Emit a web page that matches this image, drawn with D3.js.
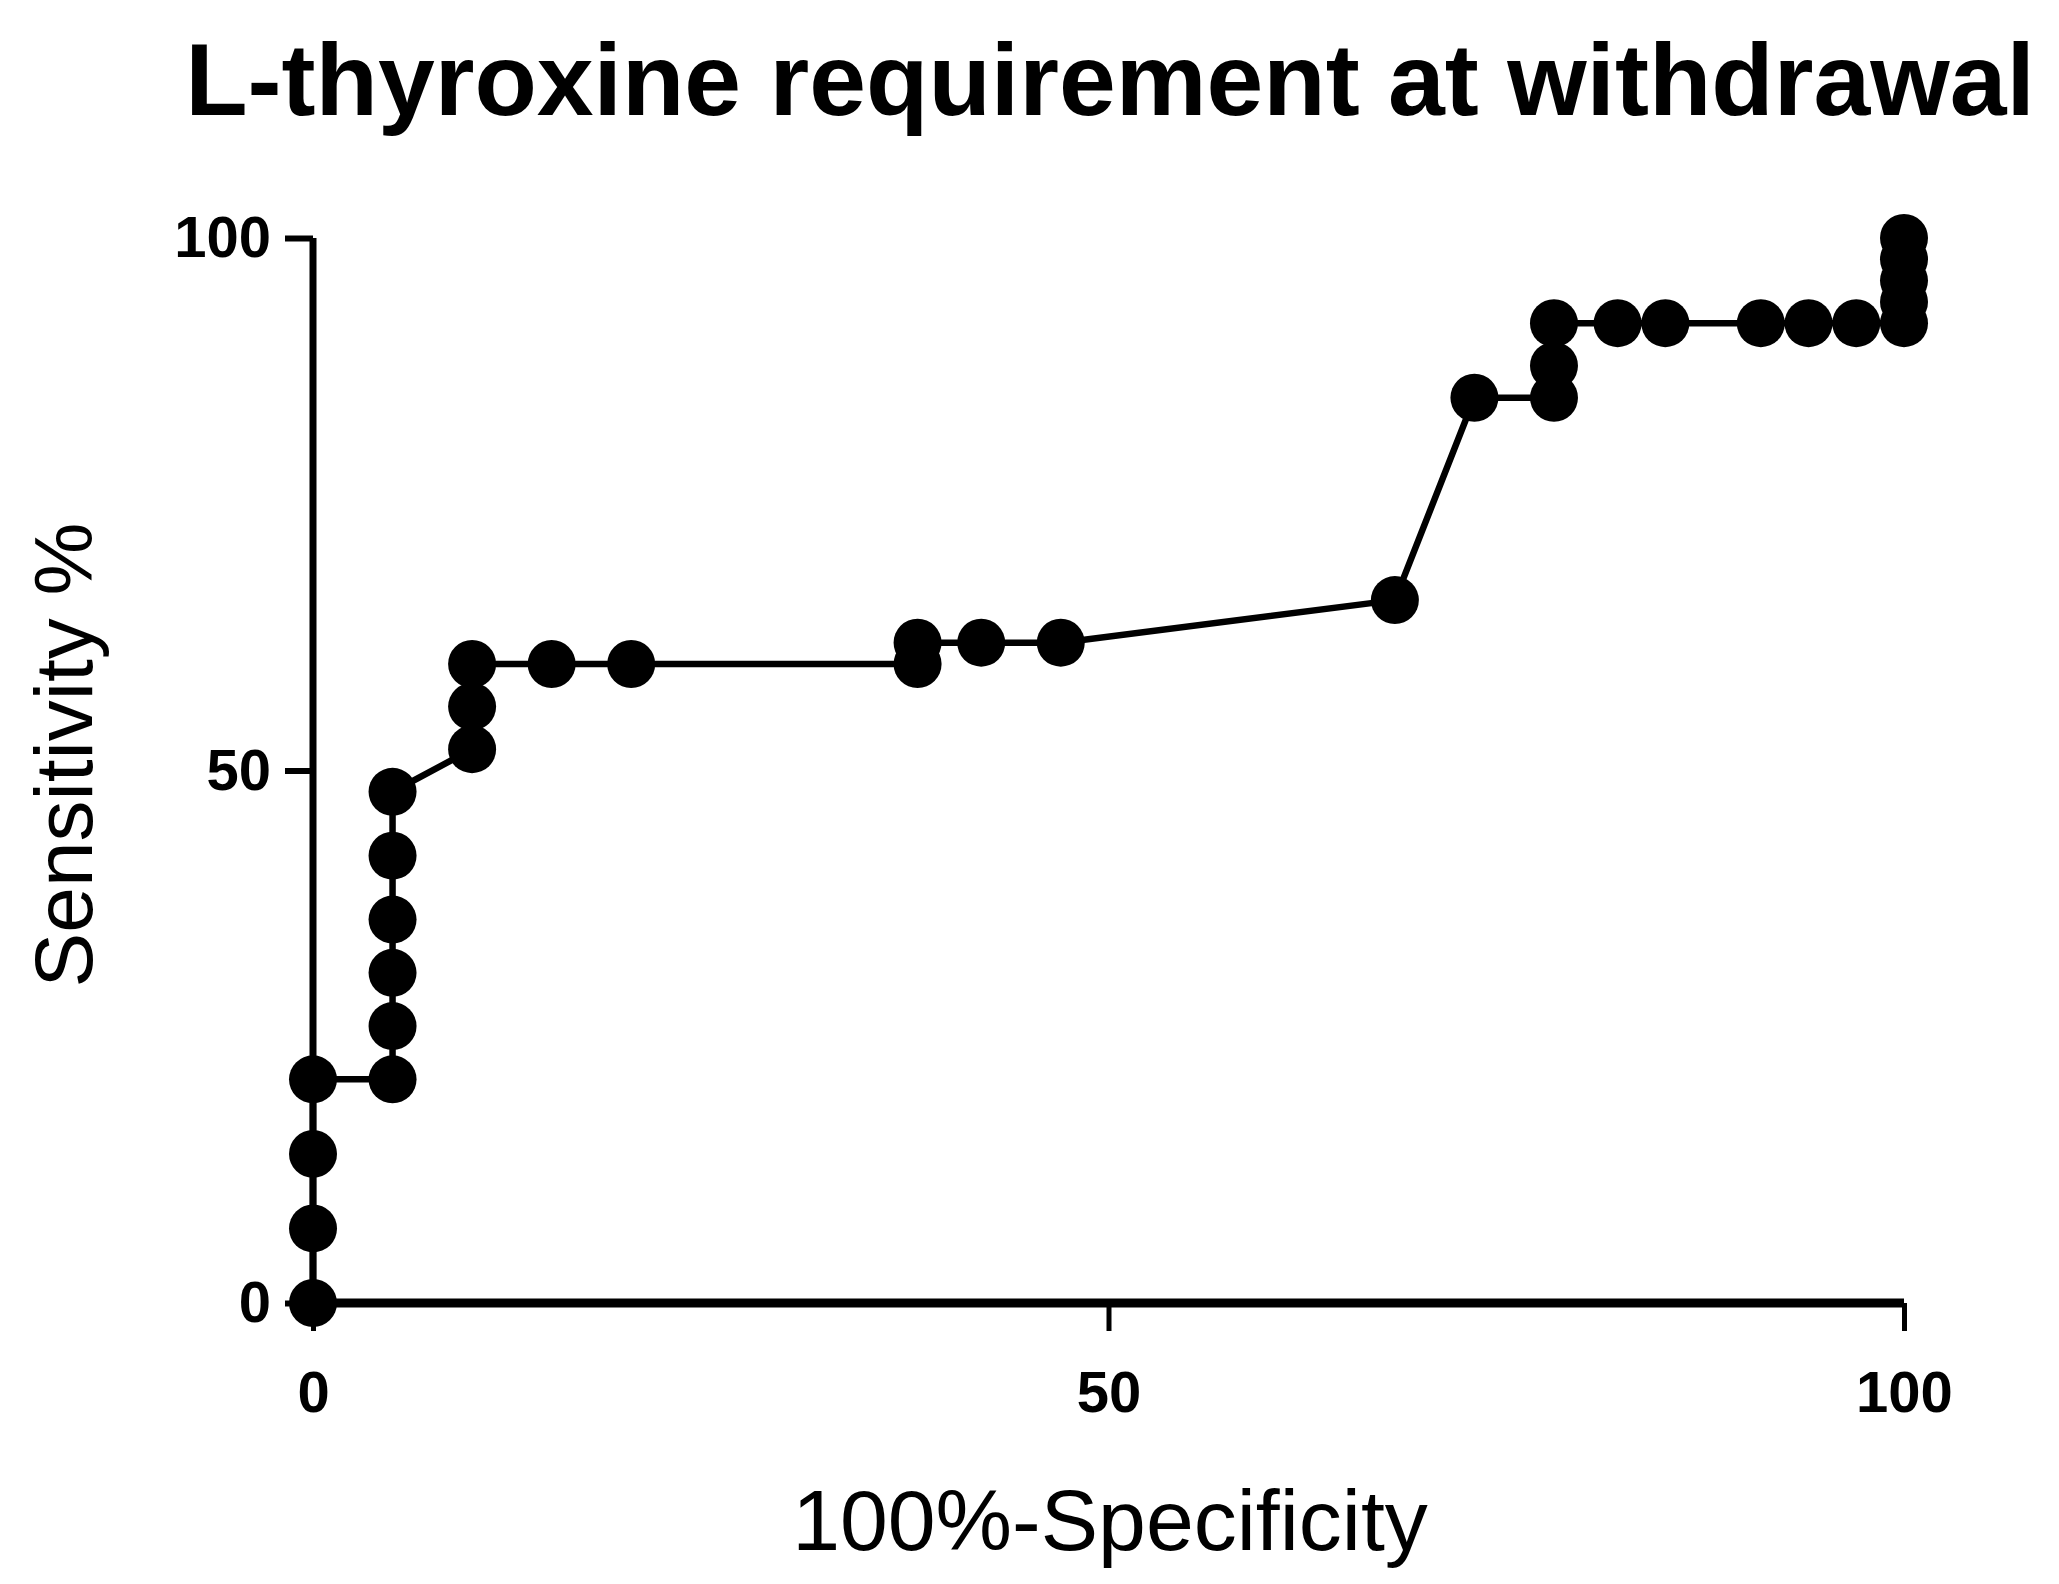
<!DOCTYPE html>
<html>
<head>
<meta charset="UTF-8">
<style>
  html, body { margin: 0; background: #fff; }
  text { font-family: "Liberation Sans", Arial, sans-serif; }
</style>
</head>
<body>
<svg id="chart" width="2059" height="1584"></svg>
<script src="https://cdn.jsdelivr.net/npm/d3@7"></script>
<script>
// ROC points, in plotting order
const fpr = [0, 0, 0, 0, 5, 5, 5, 5, 5, 5, 10, 10, 10, 15, 20, 38, 38, 42, 47, 68, 73, 78, 78, 78, 82, 85, 91, 94, 97, 100, 100, 100, 100, 100];
const sens = [0, 7, 14, 21, 21, 26, 31, 36, 42, 48, 52, 56, 60, 60, 60, 60, 62, 62, 62, 66, 85, 85, 88, 92, 92, 92, 92, 92, 92, 92, 94, 96, 98, 100];
const xTicks = [0, 50, 100];
const yTicks = [0, 50, 100];

const points = fpr.map((x, i) => ({x, y: sens[i]}));
const svg = d3.select("#chart");
const bold = "DejaVu Sans, sans-serif";

const x = d3.scaleLinear().domain([0, 100]).range([313, 1904]);
const y = d3.scaleLinear().domain([0, 100]).range([1303, 238]);

// x axis
const xa = svg.append("g").attr("transform", "translate(0,1303)")
  .call(d3.axisBottom(x).tickValues(xTicks).tickSize(28).tickPadding(40));
xa.select(".domain").attr("stroke-width", 9).attr("d", `M${x(0)},0H${x(100)}`);
xa.selectAll(".tick line").attr("stroke-width", 5);
xa.selectAll(".tick text").attr("font-size", 58).attr("font-weight", "bold")
  .attr("font-family", bold).attr("fill", "#000");

// y axis
const ya = svg.append("g").attr("transform", "translate(313,0)")
  .call(d3.axisLeft(y).tickValues(yTicks).tickSize(28).tickPadding(14));
ya.select(".domain").attr("stroke-width", 7).attr("d", `M0,${y(0)}V${y(100)}`);
ya.selectAll(".tick line").attr("stroke-width", 6);
ya.selectAll(".tick text").attr("font-size", 58).attr("font-weight", "bold")
  .attr("font-family", bold).attr("fill", "#000");

// curve
svg.append("path").datum(points)
  .attr("fill", "none").attr("stroke", "#000").attr("stroke-width", 6.5)
  .attr("d", d3.line().x(d => x(d.x)).y(d => y(d.y)));

svg.append("g").selectAll("circle").data(points).join("circle")
  .attr("cx", d => x(d.x)).attr("cy", d => y(d.y)).attr("r", 24).attr("fill", "#000");

// titles
const title = svg.append("text").attr("x", 1110).attr("y", 115).attr("text-anchor", "middle")
  .attr("font-family", bold).attr("font-size", 84).attr("font-weight", "bold")
  .text("L-thyroxine requirement at withdrawal");
const tw = title.node().getComputedTextLength();
title.attr("font-size", 84 * 1850 / tw);

svg.append("text").attr("x", 1110).attr("y", 1550).attr("text-anchor", "middle")
  .attr("font-size", 86).text("100%-Specificity");
svg.append("text").attr("transform", "translate(92,755) rotate(-90)").attr("text-anchor", "middle")
  .attr("font-size", 82).text("Sensitivity %");
</script>
</body>
</html>
